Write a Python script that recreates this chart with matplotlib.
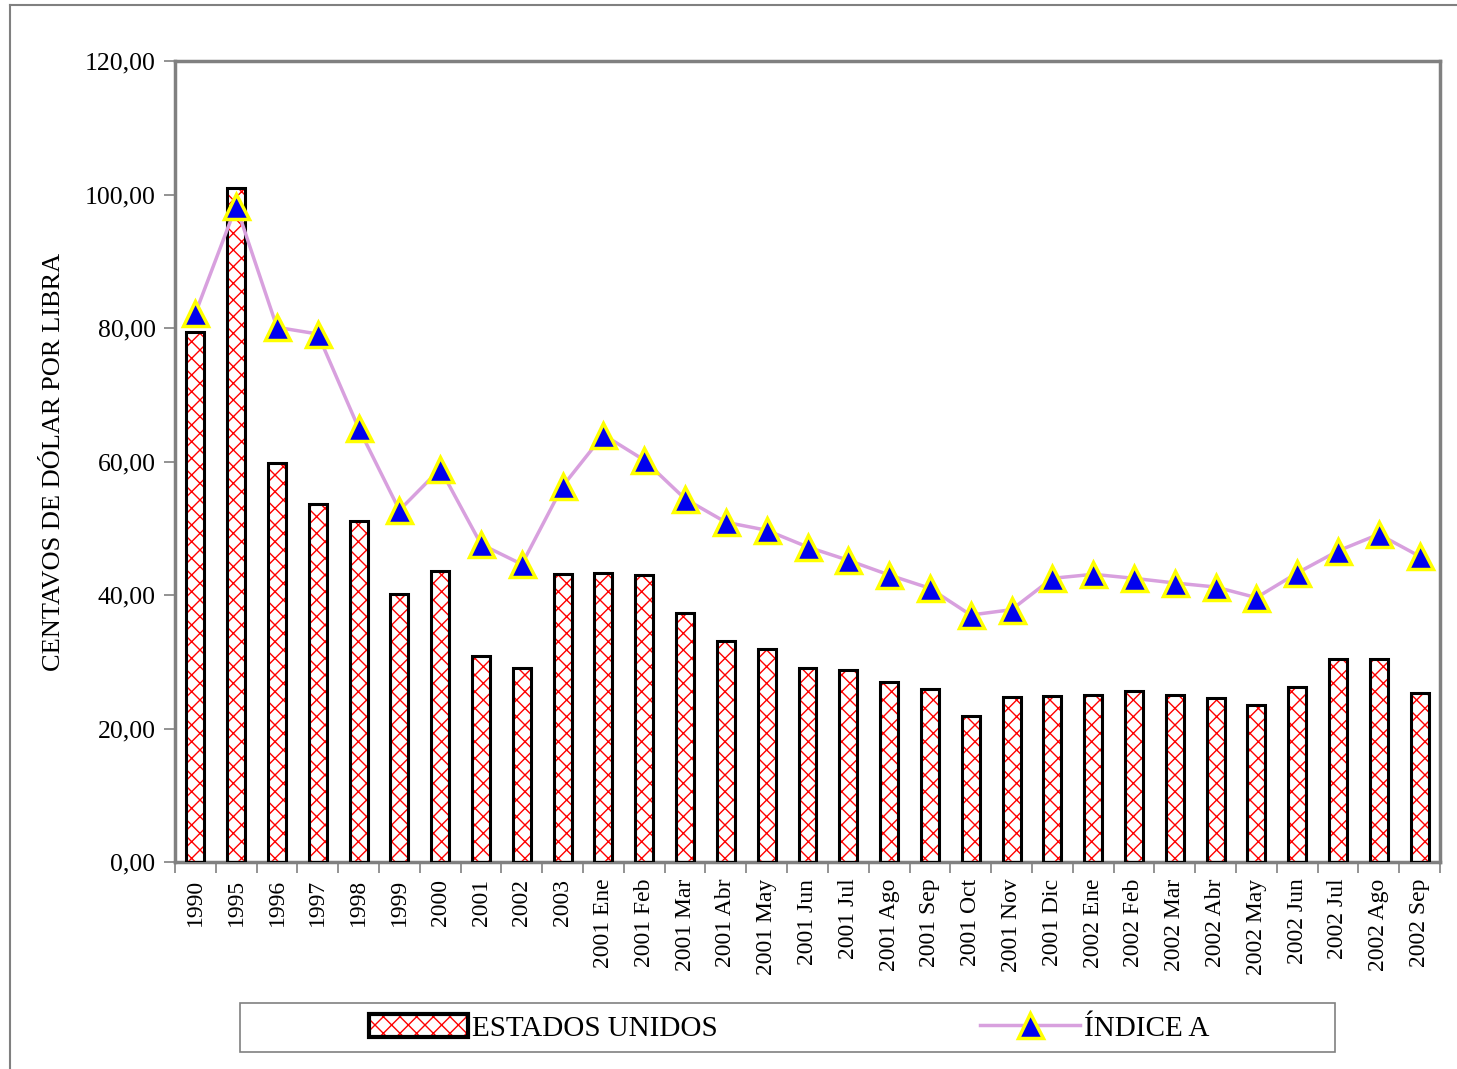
import matplotlib.pyplot as plt
import matplotlib.patches as mpatches
from matplotlib.lines import Line2D
from matplotlib.legend_handler import HandlerTuple
from matplotlib.ticker import FuncFormatter, MultipleLocator
import numpy as np

categories = ['1990', '1995', '1996', '1997', '1998', '1999', '2000', '2001',
              '2002', '2003', '2001 Ene', '2001 Feb', '2001 Mar', '2001 Abr',
              '2001 May', '2001 Jun', '2001 Jul', '2001 Ago', '2001 Sep',
              '2001 Oct', '2001 Nov', '2001 Dic', '2002 Ene', '2002 Feb',
              '2002 Mar', '2002 Abr', '2002 May', '2002 Jun', '2002 Jul',
              '2002 Ago', '2002 Sep']
estados_unidos = [79.4, 101.0, 59.8, 53.6, 51.1, 40.1, 43.6, 30.9, 29.1, 43.1,
                  43.3, 43.0, 37.3, 33.1, 31.9, 29.1, 28.8, 27.0, 25.9, 21.9,
                  24.7, 24.9, 25.0, 25.6, 25.0, 24.6, 23.5, 26.2, 30.4, 30.4,
                  25.3]
indice_a = [82.2, 98.3, 80.1, 79.1, 65.0, 52.7, 58.9, 47.6, 44.6, 56.3,
            64.0, 60.2, 54.4, 50.9, 49.7, 47.2, 45.2, 43.0, 41.0, 37.0,
            37.8, 42.5, 43.1, 42.5, 41.8, 41.2, 39.6, 43.3, 46.6, 49.1, 45.8]

plt.rcParams['font.family'] = ['Liberation Serif', 'DejaVu Serif']

fig = plt.figure(figsize=(14.57, 10.69), dpi=100)
ax = fig.add_axes([175 / 1457, 1 - 862 / 1069, 1265 / 1457, 801 / 1069])

x = np.arange(len(categories))
width = 0.44
line_color = '#d8a0de'
spine_color = '#808080'

# red hatch inside, black outline on top
ax.bar(x, estados_unidos, width, color='white', edgecolor='red', hatch='xx',
       linewidth=0, zorder=2)
ax.bar(x, estados_unidos, width, fill=False, edgecolor='black',
       linewidth=2.2, zorder=3)

ax.plot(x, indice_a, color=line_color, linewidth=2.5, zorder=4,
        marker='^', markersize=18, markerfacecolor='#0000ee',
        markeredgecolor='#ffff00', markeredgewidth=2.5)

ax.set_xlim(-0.5, len(categories) - 0.5)
ax.set_ylim(0, 120)
ax.yaxis.set_major_locator(MultipleLocator(20))
ax.yaxis.set_major_formatter(FuncFormatter(lambda v, p: f'{v:.2f}'.replace('.', ',')))

ax.set_xticks(x)
ax.set_xticklabels(categories, rotation=90, fontsize=17)
ax.tick_params(axis='x', which='major', length=0, pad=12)
ax.set_xticks(np.arange(-0.5, len(categories)), minor=True)
ax.tick_params(axis='x', which='minor', length=8, width=1.2, color=spine_color)
ax.tick_params(axis='y', labelsize=18.5, length=8, width=1.2, color=spine_color, pad=6)

for s in ax.spines.values():
    s.set_color(spine_color)
    s.set_linewidth(2.5)

ax.set_ylabel('CENTAVOS DE DÓLAR POR LIBRA', fontsize=19, labelpad=14)

# legend frame drawn separately
fig.add_artist(mpatches.Rectangle((240 / 1457, 1 - 1052 / 1069), 1095 / 1457, 49 / 1069,
                                  transform=fig.transFigure, facecolor='white',
                                  edgecolor=spine_color, linewidth=1.2))
bar_handle = (mpatches.Rectangle((0, 0), 1, 1, facecolor='white', edgecolor='red',
                                 hatch='xx', linewidth=0),
              mpatches.Rectangle((0, 0), 1, 1, fill=False, edgecolor='black',
                                 linewidth=3))
line_handle = Line2D([], [], color=line_color, linewidth=2.5, marker='^',
                     markersize=18, markerfacecolor='#0000ee',
                     markeredgecolor='#ffff00', markeredgewidth=2.5)
leg = fig.legend([bar_handle, line_handle], ['ESTADOS UNIDOS', 'ÍNDICE A'],
                 handler_map={tuple: HandlerTuple(ndivide=1, pad=0)},
                 loc='center', ncol=2, fontsize=21,
                 bbox_to_anchor=(789 / 1457, 1 - 1028 / 1069),
                 frameon=False, handlelength=3.4, handletextpad=0.15,
                 columnspacing=9.0, handleheight=0.8)

# outer frame lines (left and top)
fig.add_artist(Line2D([10 / 1457, 10 / 1457], [0, 1 - 5 / 1069],
                      transform=fig.transFigure, color=spine_color, linewidth=1.5))
fig.add_artist(Line2D([10 / 1457, 1], [1 - 5 / 1069, 1 - 5 / 1069],
                      transform=fig.transFigure, color=spine_color, linewidth=1.5))

fig.savefig('out.png', dpi=100)
